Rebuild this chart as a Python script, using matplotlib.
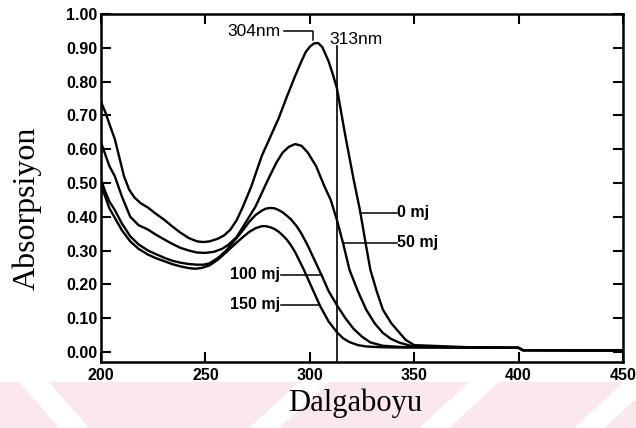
import matplotlib
matplotlib.use('Agg')
import matplotlib.pyplot as plt
from matplotlib.patches import Polygon, Rectangle

# spectra (wavelength nm, absorbance)
wl_0 = [200, 202, 204, 206.6, 209, 211, 213.5, 216, 219, 222.5, 226, 230.5, 234, 238, 242, 246,
        249, 252, 256, 259, 262, 265, 268, 272, 277, 281, 285, 289, 293, 296, 298, 300, 302,
        304, 306, 309, 311, 313, 315, 317, 319, 321, 324, 326.5, 329, 332, 335, 339, 343, 346,
        350, 375, 400, 402, 450]
abs_0 = [0.74, 0.71, 0.675, 0.63, 0.57, 0.52, 0.48, 0.457, 0.44, 0.427, 0.41, 0.39, 0.372, 0.353, 0.337, 0.327,
         0.325, 0.327, 0.335, 0.345, 0.362, 0.39, 0.43, 0.49, 0.58, 0.635, 0.69, 0.755, 0.817, 0.86, 0.887, 0.903, 0.913,
         0.914, 0.902, 0.86, 0.822, 0.78, 0.71, 0.64, 0.575, 0.51, 0.42, 0.33, 0.243, 0.18, 0.125, 0.085, 0.056, 0.035,
         0.02, 0.014, 0.012, 0.005, 0.004]

wl_50 = [200, 202, 204, 206.6, 210, 214, 218, 222.5, 226, 230.5, 234, 238, 242, 246, 250, 254,
         258, 261, 265, 268, 271, 274, 277, 280, 284, 287, 290, 293, 296, 299, 303, 307, 310,
         313, 316, 319, 323, 327, 331, 335, 339, 343, 350, 375, 400, 402, 450]
abs_50 = [0.62, 0.585, 0.55, 0.52, 0.46, 0.40, 0.375, 0.362, 0.348, 0.332, 0.32, 0.308, 0.3, 0.294, 0.293, 0.296,
          0.305, 0.317, 0.34, 0.37, 0.4, 0.43, 0.47, 0.51, 0.56, 0.59, 0.607, 0.615, 0.61, 0.59, 0.55, 0.49, 0.45,
          0.39, 0.32, 0.243, 0.18, 0.125, 0.085, 0.056, 0.038, 0.027, 0.015, 0.013, 0.012, 0.005, 0.004]

wl_100 = [200, 202, 204, 206.6, 210, 214, 218, 222.5, 226, 230.5, 234, 238, 242, 246, 249, 252,
          256, 260, 264, 268, 271, 274, 277, 279, 281, 283, 285, 287, 289, 291, 293.7, 296, 299,
          303.3, 306, 309, 313, 317, 321, 325, 329, 335, 345, 375, 400, 402, 450]
abs_100 = [0.51, 0.475, 0.445, 0.42, 0.38, 0.342, 0.318, 0.30, 0.29, 0.278, 0.27, 0.264, 0.26, 0.258, 0.258, 0.262,
           0.278, 0.30, 0.33, 0.36, 0.385, 0.405, 0.418, 0.424, 0.426, 0.425, 0.42, 0.413, 0.403, 0.392, 0.372, 0.35, 0.315,
           0.258, 0.222, 0.18, 0.138, 0.1, 0.068, 0.045, 0.028, 0.018, 0.014, 0.013, 0.012, 0.005, 0.004]

wl_150 = [200, 202, 204, 206.6, 210, 214, 218, 222.5, 226, 230.5, 234, 238, 242, 245, 248, 252,
          256, 260, 264, 268, 271, 274, 277, 279, 281, 283, 285, 287, 289, 291, 293, 297, 301,
          305, 309, 313, 316, 319, 323, 327, 333, 340, 375, 400, 402, 450]
abs_150 = [0.49, 0.46, 0.425, 0.397, 0.36, 0.327, 0.305, 0.288, 0.278, 0.268, 0.26, 0.253, 0.248, 0.246, 0.248, 0.256,
           0.273, 0.295, 0.318, 0.34, 0.355, 0.366, 0.372, 0.372, 0.369, 0.364, 0.356, 0.345, 0.332, 0.315, 0.295, 0.245, 0.19,
           0.135, 0.09, 0.058, 0.04, 0.029, 0.02, 0.016, 0.014, 0.013, 0.013, 0.012, 0.005, 0.004]

xticks = [200, 250, 300, 350, 400, 450]
yticks = [0.0, 0.1, 0.2, 0.3, 0.4, 0.5, 0.6, 0.7, 0.8, 0.9, 1.0]

W, H = 636., 428.
fig = plt.figure(figsize=(6.36, 4.28), dpi=100)

# faint pink watermark strip at the bottom of the scan
fig.add_artist(Rectangle((0, 0), 1, 46/H, transform=fig.transFigure, color='#fbe8ec', zorder=-10))
for xb, xt in [(60, 20), (250, 300), (420, 470), (575, 625)]:
    pts = [(xb/W, 0), ((xb+28)/W, 0), ((xt+28)/W, 46/H), (xt/W, 46/H)]
    fig.add_artist(Polygon(pts, closed=True, transform=fig.transFigure, color='white', zorder=-9))

ax = fig.add_axes([101/W, 66/H, 522/W, 348/H])
ax.set_xlim(200, 450)
ax.set_ylim(-0.03, 1.0)
ax.patch.set_visible(False)

lw = 1.7
ax.plot(wl_0, abs_0, color='k', lw=lw, solid_joinstyle='round')
ax.plot(wl_50, abs_50, color='k', lw=lw, solid_joinstyle='round')
ax.plot(wl_100, abs_100, color='k', lw=lw, solid_joinstyle='round')
ax.plot(wl_150, abs_150, color='k', lw=lw, solid_joinstyle='round')

# 313 nm marker line and 304 nm bracket
ax.plot([313, 313], [-0.03, 0.905], color='k', lw=1.2)
ax.plot([287.8, 301.5, 301.5], [0.95, 0.95, 0.922], color='k', lw=1.1)

tfont = dict(family='Liberation Sans', fontsize=11.5, fontweight='bold')
ax.text(260.5, 0.948, '304nm', va='center', ha='left', family='Liberation Sans', fontsize=12.5)
ax.text(309.5, 0.926, '313nm', va='center', ha='left', family='Liberation Sans', fontsize=12.5)

ax.plot([324.8, 341.6], [0.412, 0.412], color='k', lw=1.1)
ax.text(342, 0.412, '0 mj', va='center', ha='left', **tfont)
ax.plot([315.9, 341.6], [0.323, 0.323], color='k', lw=1.1)
ax.text(342, 0.323, '50 mj', va='center', ha='left', **tfont)
ax.plot([286.2, 305.9], [0.228, 0.228], color='k', lw=1.1)
ax.text(285.6, 0.228, '100 mj', va='center', ha='right', **tfont)
ax.plot([286.2, 304.4], [0.139, 0.139], color='k', lw=1.1)
ax.text(285.6, 0.139, '150 mj', va='center', ha='right', **tfont)

for s in ax.spines.values():
    s.set_linewidth(1.8)
ax.set_xticks(xticks)
ax.set_yticks(yticks)
ax.set_yticklabels(['%.2f' % v for v in yticks])
ax.tick_params(direction='in', length=7, width=1.5, top=True, right=True, pad=4)
ax.tick_params(axis='y', pad=2.5)
for lab in ax.get_xticklabels() + ax.get_yticklabels():
    lab.set_family('Liberation Sans')
    lab.set_fontweight('bold')
    lab.set_fontsize(11.5)

# axis titles placed where they sit on the scan
fig.text(355/W, 1 - 403/H, 'Dalgaboyu', family='Liberation Serif', fontsize=22,
         ha='center', va='center')
fig.text(27/W, 1 - 208/H, 'Absorpsiyon', family='Liberation Serif', fontsize=23,
         rotation=90, ha='center', va='center')

fig.savefig('out.png', dpi=100)
